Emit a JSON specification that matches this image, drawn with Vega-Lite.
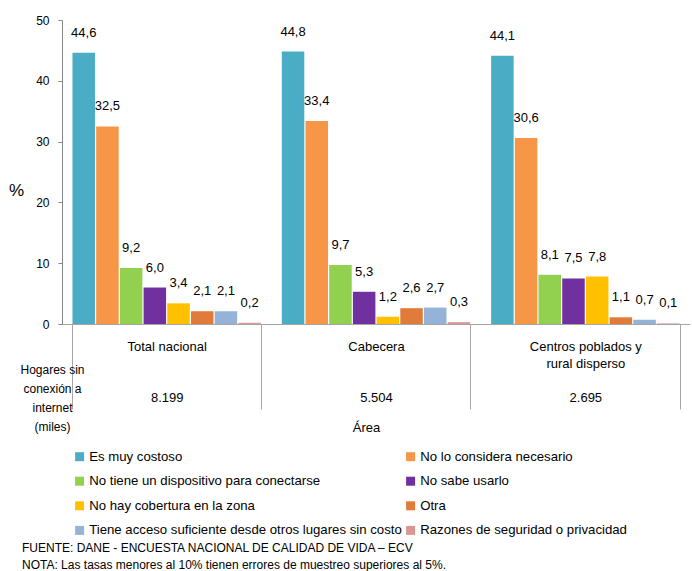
{
  "$schema": "https://vega.github.io/schema/vega-lite/v6.json",
  "width": 628,
  "height": 304,
  "autosize": {"type": "none"},
  "padding": {"left": 62, "top": 20, "right": 2, "bottom": 247},
  "config": {
    "font": "Liberation Sans",
    "view": {"stroke": null},
    "locale": {"number": {"decimal": ",", "thousands": ".", "grouping": [3], "currency": ["$", ""]}}
  },
  "title": {
    "text": ["FUENTE: DANE - ENCUESTA NACIONAL DE CALIDAD DE VIDA – ECV", "NOTA: Las tasas menores al 10% tienen errores de muestreo superiores al 5%."],
    "orient": "bottom",
    "anchor": "start",
    "frame": "group",
    "dx": -40,
    "offset": 6,
    "fontSize": 12,
    "fontWeight": "normal",
    "color": "#000000",
    "lineHeight": 17
  },
  "data": {
    "values": [
      {"area": "Total nacional", "motivo": "Es muy costoso", "pct": 44.6},
      {"area": "Total nacional", "motivo": "No lo considera necesario", "pct": 32.5},
      {"area": "Total nacional", "motivo": "No tiene un dispositivo para conectarse", "pct": 9.2},
      {"area": "Total nacional", "motivo": "No sabe usarlo", "pct": 6.0},
      {"area": "Total nacional", "motivo": "No hay cobertura en la zona", "pct": 3.4},
      {"area": "Total nacional", "motivo": "Otra", "pct": 2.1},
      {"area": "Total nacional", "motivo": "Tiene acceso suficiente desde otros lugares sin costo", "pct": 2.1},
      {"area": "Total nacional", "motivo": "Razones de seguridad o privacidad", "pct": 0.2},
      {"area": "Cabecera", "motivo": "Es muy costoso", "pct": 44.8},
      {"area": "Cabecera", "motivo": "No lo considera necesario", "pct": 33.4},
      {"area": "Cabecera", "motivo": "No tiene un dispositivo para conectarse", "pct": 9.7},
      {"area": "Cabecera", "motivo": "No sabe usarlo", "pct": 5.3},
      {"area": "Cabecera", "motivo": "No hay cobertura en la zona", "pct": 1.2},
      {"area": "Cabecera", "motivo": "Otra", "pct": 2.6},
      {"area": "Cabecera", "motivo": "Tiene acceso suficiente desde otros lugares sin costo", "pct": 2.7},
      {"area": "Cabecera", "motivo": "Razones de seguridad o privacidad", "pct": 0.3},
      {"area": "Centros poblados y rural disperso", "motivo": "Es muy costoso", "pct": 44.1},
      {"area": "Centros poblados y rural disperso", "motivo": "No lo considera necesario", "pct": 30.6},
      {"area": "Centros poblados y rural disperso", "motivo": "No tiene un dispositivo para conectarse", "pct": 8.1},
      {"area": "Centros poblados y rural disperso", "motivo": "No sabe usarlo", "pct": 7.5},
      {"area": "Centros poblados y rural disperso", "motivo": "No hay cobertura en la zona", "pct": 7.8},
      {"area": "Centros poblados y rural disperso", "motivo": "Otra", "pct": 1.1},
      {"area": "Centros poblados y rural disperso", "motivo": "Tiene acceso suficiente desde otros lugares sin costo", "pct": 0.7},
      {"area": "Centros poblados y rural disperso", "motivo": "Razones de seguridad o privacidad", "pct": 0.1}
    ]
  },
  "encoding": {
    "x": {
      "field": "area",
      "type": "nominal",
      "sort": ["Total nacional", "Cabecera", "Centros poblados y rural disperso"],
      "scale": {"paddingInner": 0.1, "paddingOuter": 0.05},
      "axis": {
        "title": "Área",
        "titleX": 304,
        "titleY": 103,
        "titleFontSize": 13,
        "titleFontWeight": "normal",
        "titleAlign": "center",
        "titleBaseline": "middle",
        "titleColor": "#000000",
        "labelAngle": 0,
        "labelFontSize": 13,
        "labelColor": "#000000",
        "labelLineHeight": 17,
        "labelBaseline": "top",
        "labelPadding": -69,
        "labelExpr": "datum.value == 'Total nacional' ? ['Total nacional', '\u200b', '\u200b', '8.199'] : datum.value == 'Cabecera' ? ['Cabecera', '\u200b', '\u200b', '5.504'] : datum.value == 'Centros poblados y rural disperso' ? ['Centros poblados y', 'rural disperso', '\u200b', '2.695'] : ''",
        "tickBand": "extent",
        "tickSize": 85,
        "tickColor": "#a6a6a6",
        "domainColor": "#a6a6a6"
      }
    },
    "xOffset": {
      "field": "motivo",
      "type": "nominal",
      "scale": {
        "domain": ["Es muy costoso", "No lo considera necesario", "No tiene un dispositivo para conectarse", "No sabe usarlo", "No hay cobertura en la zona", "Otra", "Tiene acceso suficiente desde otros lugares sin costo", "Razones de seguridad o privacidad"],
        "paddingInner": 0.05
      }
    }
  },
  "layer": [
    {
      "mark": {"type": "bar"},
      "encoding": {
        "y": {
          "field": "pct",
          "type": "quantitative",
          "scale": {"domain": [0, 50]},
          "axis": {
            "values": [0, 10, 20, 30, 40, 50],
            "grid": false,
            "domainColor": "#868686",
            "tickColor": "#868686",
            "tickSize": 4,
            "labelFontSize": 12,
            "labelColor": "#000000",
            "labelPadding": 9,
            "title": "%",
            "titleAngle": 0,
            "titleX": -46,
            "titleY": 170,
            "titleFontSize": 17,
            "titleFontWeight": "normal",
            "titleAlign": "center",
            "titleBaseline": "middle",
            "titleColor": "#000000"
          }
        },
        "color": {
          "field": "motivo",
          "type": "nominal",
          "scale": {
            "domain": ["Es muy costoso", "No lo considera necesario", "No tiene un dispositivo para conectarse", "No sabe usarlo", "No hay cobertura en la zona", "Otra", "Tiene acceso suficiente desde otros lugares sin costo", "Razones de seguridad o privacidad"],
            "range": ["#4BACC6", "#F79646", "#92D050", "#7030A0", "#FFC000", "#E07B39", "#95B3D7", "#D99694"]
          },
          "legend": {
            "orient": "none",
            "legendX": 11,
            "legendY": 430,
            "direction": "horizontal",
            "columns": 2,
            "title": null,
            "symbolType": "square",
            "symbolSize": 81,
            "symbolStrokeWidth": 0,
            "labelFontSize": 13.2,
            "labelLimit": 400,
            "labelOffset": 3,
            "labelColor": "#000000",
            "rowPadding": 10.6,
            "columnPadding": 2
          }
        }
      }
    },
    {
      "mark": {"type": "text", "baseline": "bottom", "dy": -13, "fontSize": 13, "color": "#000000"},
      "encoding": {
        "y": {
          "field": "pct",
          "type": "quantitative",
          "scale": {"domain": [0, 50]},
          "axis": {
            "orient": "right",
            "labels": false,
            "ticks": false,
            "domain": false,
            "grid": false,
            "title": ["Hogares sin", "conexión a", "internet", "(miles)"],
            "titleX": -638,
            "titleY": 344,
            "titleAngle": 0,
            "titleAlign": "center",
            "titleBaseline": "top",
            "titleFontSize": 12,
            "titleFontWeight": "normal",
            "titleLineHeight": 19,
            "titleColor": "#000000"
          }
        },
        "text": {"field": "pct", "type": "quantitative", "format": ".1f"}
      }
    }
  ],
  "resolve": {"scale": {"y": "independent"}}
}
